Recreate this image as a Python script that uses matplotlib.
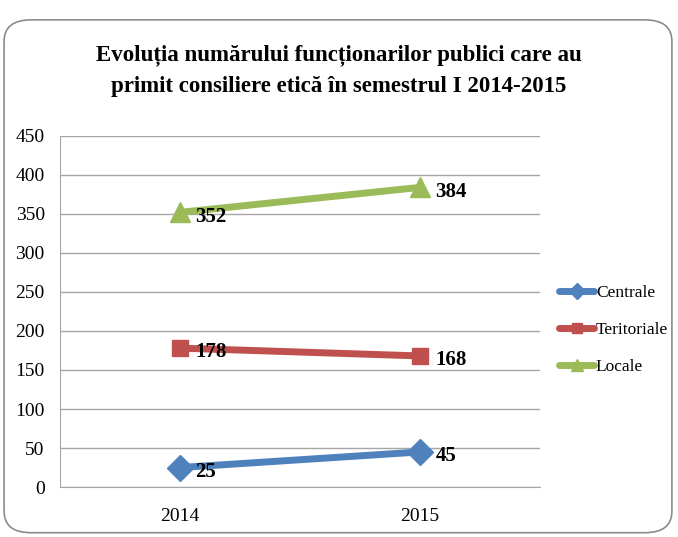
import matplotlib
matplotlib.use("Agg")
import matplotlib.pyplot as plt
from matplotlib.patches import FancyBboxPatch

# date
ani = ["2014", "2015"]
centrale = [25, 45]
teritoriale = [178, 168]
locale = [352, 384]
y_ticks = [0, 50, 100, 150, 200, 250, 300, 350, 400, 450]
titlu = "Evoluția numărului funcționarilor publici care au\nprimit consiliere etică în semestrul I 2014-2015"

plt.rcParams["font.family"] = ["Liberation Serif", "DejaVu Serif"]

fig = plt.figure(figsize=(6.78, 5.37), dpi=100, facecolor="white")

# chenar rotunjit
chenar = FancyBboxPatch((0.006, 0.008), 0.985, 0.955,
                        boxstyle="round,pad=0,rounding_size=0.04",
                        transform=fig.transFigure, facecolor="none",
                        edgecolor="#8c8c8c", linewidth=1.2, zorder=-1)
fig.patches.append(chenar)

ax = fig.add_axes([0.0885, 0.093, 0.708, 0.654])
ax.set_facecolor("none")

x = list(range(len(ani)))
serii = [
    ("Centrale", centrale, "#4F81BD", "D", 13),
    ("Teritoriale", teritoriale, "#C0504D", "s", 11),
    ("Locale", locale, "#9BBB59", "^", 14),
]
for nume, valori, culoare, marker, ms in serii:
    ax.plot(x, valori, color=culoare, lw=5, marker=marker, ms=ms,
            label=nume, solid_capstyle="round", zorder=3)
    for xi, v in zip(x, valori):
        ax.annotate(str(v), (xi, v), xytext=(11, -3), textcoords="offset points",
                    ha="left", va="center", fontsize=15, fontweight="bold",
                    zorder=4)

ax.set_xlim(-0.5, len(ani) - 0.5)
ax.set_ylim(0, 450)
ax.set_yticks(y_ticks)
ax.set_xticks(x)
ax.set_xticklabels(ani)
ax.tick_params(axis="both", length=0, labelsize=14, colors="black")
ax.tick_params(axis="y", pad=11)
ax.tick_params(axis="x", pad=15)
ax.grid(axis="y", color="#a6a6a6", lw=1)
ax.set_axisbelow(True)
for s in ["top", "right"]:
    ax.spines[s].set_visible(False)
for s in ["left", "bottom"]:
    ax.spines[s].set_color("#a6a6a6")

fig.text(0.5, 0.868, titlu, ha="center", va="center", fontsize=16.5,
         fontweight="bold", linespacing=1.65)

fig.legend(loc="center left", bbox_to_anchor=(0.802, 0.385), frameon=False,
           fontsize=12.5, handlelength=2.0, handletextpad=0.1, labelspacing=1.2,
           markerscale=0.6)

fig.savefig("out.png", dpi=100)
